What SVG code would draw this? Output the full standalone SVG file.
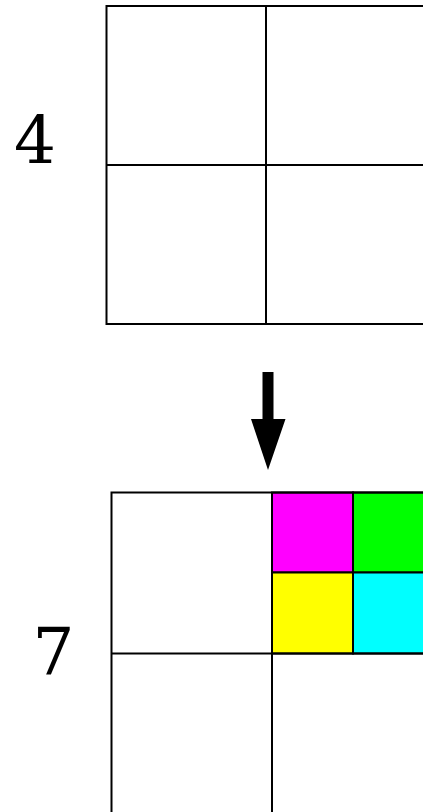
<svg xmlns="http://www.w3.org/2000/svg" width="423" height="812" viewBox="0 0 423 812">
<style>
.g{fill:none;stroke:#000;stroke-width:2}
.c{stroke:#000;stroke-width:2}
.t{font-family:"DejaVu Serif",serif;font-size:66px;fill:#000;text-anchor:middle}
</style>
<rect width="423" height="812" fill="#fff"/>
<g id="label4"><text class="t" x="35" y="163">4</text></g>
<g id="grid4">
<rect class="g" x="106.5" y="6" width="340" height="318"/>
<line class="g" x1="266" y1="6" x2="266" y2="324"/>
<line class="g" x1="106.5" y1="165" x2="430" y2="165"/>
</g>
<g id="connectors">
<polygon points="262.5,372 273.5,372 273.5,419 285.5,419 268,470 251,419 262.5,419" fill="#000"/>
</g>
<g id="label7"><text class="t" x="53.5" y="675">7</text></g>
<g id="grid7">
<rect x="272" y="492.5" width="81" height="80" fill="#ff00ff" class="c"/>
<rect x="353" y="492.5" width="81" height="80" fill="#00ff00" class="c"/>
<rect x="272" y="572.5" width="81" height="81" fill="#ffff00" class="c"/>
<rect x="353" y="572.5" width="81" height="81" fill="#00ffff" class="c"/>
<rect class="g" x="111.5" y="492.5" width="340" height="340"/>
<line class="g" x1="272" y1="492.5" x2="272" y2="820"/>
<line class="g" x1="111.5" y1="653.5" x2="430" y2="653.5"/>
</g>
</svg>
